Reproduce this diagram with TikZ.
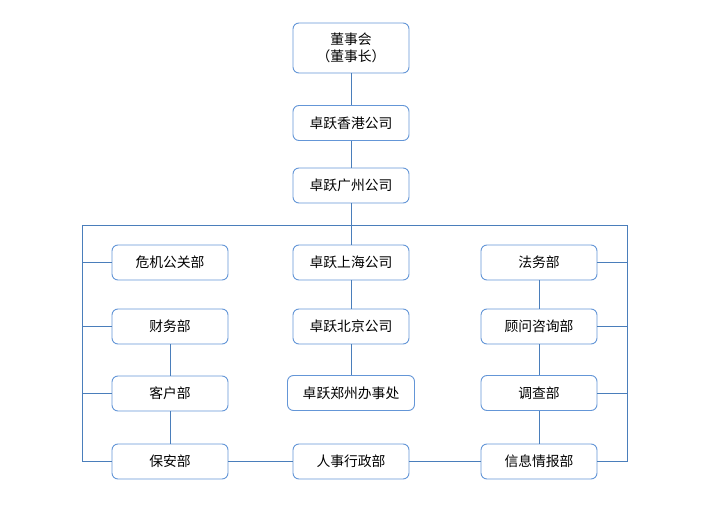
\documentclass[tikz,border=0pt]{standalone}
\usepackage{fontspec}
\newfontfamily\cjk{Noto Sans CJK SC}
\definecolor{linec}{RGB}{74,126,187}
\definecolor{boxc}{RGB}{100,150,215}
\begin{document}
\begin{tikzpicture}[x=1pt,y=-1pt,
  box/.style={draw=boxc,line width=0.9pt,rounded corners=6pt,fill=white,minimum width=116pt,minimum height=35pt,inner sep=0pt,font=\cjk\fontsize{13.8}{16.5}\selectfont,align=center},
  conn/.style={draw=linec,line width=0.8pt}]
\useasboundingbox (0,0) rectangle (701,505);
\node[box,minimum height=50pt] (dsh) at (351,48) {董事会\\（董事长）};
\node[box] (hk) at (351,123) {卓跃香港公司};
\node[box] (gz) at (351,185.5) {卓跃广州公司};
\node[box] (wj) at (170,262.5) {危机公关部};
\node[box] (cw) at (170,326.5) {财务部};
\node[box] (kh) at (170,393.5) {客户部};
\node[box] (ba) at (170,461.5) {保安部};
\node[box] (sh) at (351,262.5) {卓跃上海公司};
\node[box] (bj) at (351,326.5) {卓跃北京公司};
\node[box,minimum width=127pt] (zz) at (351,393) {卓跃郑州办事处};
\node[box] (rs) at (351,461.5) {人事行政部};
\node[box] (fw) at (539,262.5) {法务部};
\node[box] (gw) at (539,326.5) {顾问咨询部};
\node[box] (dc) at (539,393) {调查部};
\node[box] (xx) at (539,461.5) {信息情报部};
\coordinate (tl) at (82,225);
\coordinate (tr) at (627,225);
\draw[conn] (dsh) -- (hk);
\draw[conn] (hk) -- (gz);
\draw[conn] (gz) -- (sh);
\draw[conn] (sh) -- (bj);
\draw[conn] (bj) -- (zz);
\draw[conn] (tl) -- (tr);
\draw[conn] (tl) |- (ba.west);
\draw[conn] (tr) |- (xx.east);
\draw[conn] (wj.west) -- (wj.west -| tl);
\draw[conn] (cw.west) -- (cw.west -| tl);
\draw[conn] (kh.west) -- (kh.west -| tl);
\draw[conn] (fw.east) -- (fw.east -| tr);
\draw[conn] (gw.east) -- (gw.east -| tr);
\draw[conn] (dc.east) -- (dc.east -| tr);
\draw[conn] (cw) -- (kh);
\draw[conn] (kh) -- (ba);
\draw[conn] (fw) -- (gw);
\draw[conn] (gw) -- (dc);
\draw[conn] (dc) -- (xx);
\draw[conn] (ba) -- (rs);
\draw[conn] (rs) -- (xx);
\end{tikzpicture}
\end{document}
